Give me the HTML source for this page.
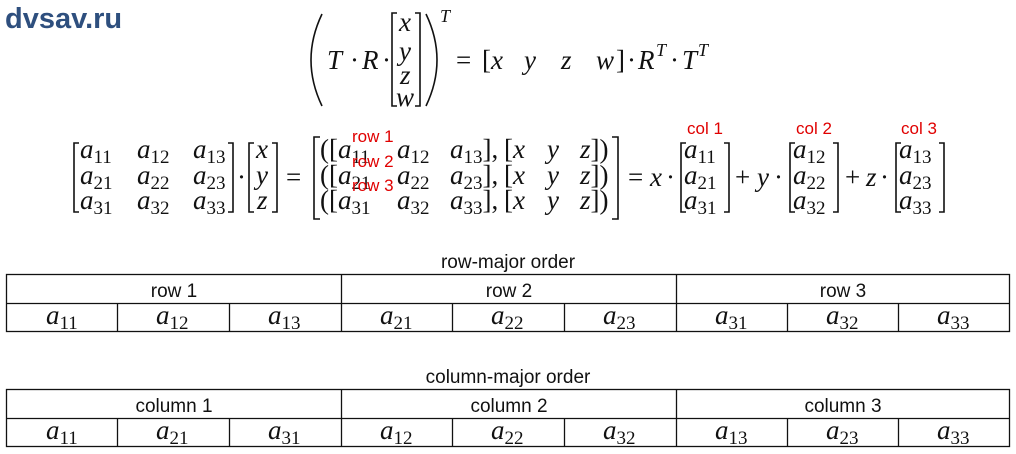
<!DOCTYPE html>
<html><head><meta charset="utf-8"><style>
html,body{margin:0;padding:0;background:#fff;}
svg{display:block}
.m{font-family:"Liberation Serif",serif;font-style:italic;font-size:27px;fill:#111}
.n{font-family:"Liberation Serif",serif;font-size:27px;font-style:normal;fill:#111}
.s{font-size:19px;font-style:normal}
.r{font-family:"Liberation Sans",sans-serif;font-size:17px;fill:#e00000}
.l{font-family:"Liberation Sans",sans-serif;font-size:19px;fill:#111}
.b{fill:none;stroke:#111;stroke-width:1.6}
.t{fill:none;stroke:#111;stroke-width:1.3}
</style></head><body>
<svg width="1016" height="454" viewBox="0 0 1016 454" xmlns="http://www.w3.org/2000/svg">
<text x="5" y="28" style="font-family:'Liberation Sans',sans-serif;font-weight:bold;font-size:29px;fill:#2e4f7e">dvsav.ru</text>

<!-- top equation -->
<path class="b" d="M322,14 Q300,60 322,106"/>
<text class="m" x="327" y="69">T</text>
<text class="n" x="350" y="69">·</text>
<text class="m" x="362" y="69">R</text>
<text class="n" x="382" y="69">·</text>
<path class="b" d="M397,13 H392 V106 H397"/>
<text class="m" x="399" y="31">x</text>
<text class="m" x="399" y="60">y</text>
<text class="m" x="400" y="84">z</text>
<text class="m" x="396" y="106">w</text>
<path class="b" d="M415,13 H420 V106 H415"/>
<path class="b" d="M426,14 Q448,60 426,106"/>
<text class="m" x="440" y="22" style="font-size:18px">T</text>
<text class="n" x="456" y="69">=</text>
<text class="n" x="482" y="69">[</text>
<text class="m" x="491" y="69">x</text>
<text class="m" x="524" y="69">y</text>
<text class="m" x="561" y="69">z</text>
<text class="m" x="596" y="69">w</text>
<text class="n" x="616" y="69">]</text>
<text class="n" x="627" y="69">·</text>
<text class="m" x="638" y="69">R</text>
<text class="m" x="656" y="56" style="font-size:18px">T</text>
<text class="n" x="670" y="69">·</text>
<text class="m" x="682" y="69">T</text>
<text class="m" x="698" y="56" style="font-size:18px">T</text>

<!-- second row: matrix -->
<path class="b" d="M79,143 H74 V212 H79"/>
<g class="m">
<text x="80" y="158">a<tspan class="s" dy="5">11</tspan></text>
<text x="137" y="158">a<tspan class="s" dy="5">12</tspan></text>
<text x="193" y="158">a<tspan class="s" dy="5">13</tspan></text>
<text x="80" y="184">a<tspan class="s" dy="5">21</tspan></text>
<text x="137" y="184">a<tspan class="s" dy="5">22</tspan></text>
<text x="193" y="184">a<tspan class="s" dy="5">23</tspan></text>
<text x="80" y="209">a<tspan class="s" dy="5">31</tspan></text>
<text x="137" y="209">a<tspan class="s" dy="5">32</tspan></text>
<text x="193" y="209">a<tspan class="s" dy="5">33</tspan></text>
</g>
<path class="b" d="M228,143 H233 V212 H228"/>
<text class="n" x="237" y="186">·</text>
<path class="b" d="M254,143 H249 V212 H254"/>
<text class="m" x="256" y="158">x</text>
<text class="m" x="256" y="184">y</text>
<text class="m" x="257" y="209">z</text>
<path class="b" d="M272,143 H277 V212 H272"/>
<text class="n" x="286" y="186">=</text>

<path class="b" d="M320,137 H314 V219 H320"/>
<g class="m">
<text x="320" y="158"><tspan class="n">([</tspan>a<tspan class="s" dy="5">11</tspan></text>
<text x="320" y="184"><tspan class="n">([</tspan>a<tspan class="s" dy="5">21</tspan></text>
<text x="320" y="209"><tspan class="n">([</tspan>a<tspan class="s" dy="5">31</tspan></text>
<text x="397" y="158">a<tspan class="s" dy="5">12</tspan></text>
<text x="397" y="184">a<tspan class="s" dy="5">22</tspan></text>
<text x="397" y="209">a<tspan class="s" dy="5">32</tspan></text>
<text x="450" y="158">a<tspan class="s" dy="5">13</tspan><tspan class="n" dy="-5">],</tspan></text>
<text x="450" y="184">a<tspan class="s" dy="5">23</tspan><tspan class="n" dy="-5">],</tspan></text>
<text x="450" y="209">a<tspan class="s" dy="5">33</tspan><tspan class="n" dy="-5">],</tspan></text>
<text x="504" y="158"><tspan class="n">[</tspan>x</text>
<text x="504" y="184"><tspan class="n">[</tspan>x</text>
<text x="504" y="209"><tspan class="n">[</tspan>x</text>
<text x="547" y="158">y</text><text x="547" y="184">y</text><text x="547" y="209">y</text>
<text x="580" y="158">z<tspan class="n">])</tspan></text>
<text x="580" y="184">z<tspan class="n">])</tspan></text>
<text x="580" y="209">z<tspan class="n">])</tspan></text>
</g>
<text class="r" x="352" y="142">row 1</text>
<text class="r" x="352" y="167">row 2</text>
<text class="r" x="352" y="191">row 3</text>
<path class="b" d="M612,137 H618 V219 H612"/>

<text class="n" x="628" y="186">=</text>
<text class="m" x="650" y="186">x</text>
<text class="n" x="666" y="186">·</text>
<path class="b" d="M686,143 H681 V212 H686"/>
<g class="m">
<text x="684" y="158">a<tspan class="s" dy="5">11</tspan></text>
<text x="684" y="184">a<tspan class="s" dy="5">21</tspan></text>
<text x="684" y="209">a<tspan class="s" dy="5">31</tspan></text>
</g>
<path class="b" d="M724,143 H729 V212 H724"/>
<text class="n" x="735" y="186">+</text>
<text class="m" x="757" y="186">y</text>
<text class="n" x="774" y="186">·</text>
<path class="b" d="M795,143 H790 V212 H795"/>
<g class="m">
<text x="793" y="158">a<tspan class="s" dy="5">12</tspan></text>
<text x="793" y="184">a<tspan class="s" dy="5">22</tspan></text>
<text x="793" y="209">a<tspan class="s" dy="5">32</tspan></text>
</g>
<path class="b" d="M833,143 H838 V212 H833"/>
<text class="n" x="845" y="186">+</text>
<text class="m" x="866" y="186">z</text>
<text class="n" x="880" y="186">·</text>
<path class="b" d="M901,143 H896 V212 H901"/>
<g class="m">
<text x="899" y="158">a<tspan class="s" dy="5">13</tspan></text>
<text x="899" y="184">a<tspan class="s" dy="5">23</tspan></text>
<text x="899" y="209">a<tspan class="s" dy="5">33</tspan></text>
</g>
<path class="b" d="M939,143 H944 V212 H939"/>
<text class="r" x="705" y="134" text-anchor="middle">col 1</text>
<text class="r" x="814" y="134" text-anchor="middle">col 2</text>
<text class="r" x="919" y="134" text-anchor="middle">col 3</text>

<!-- row-major table -->
<text class="l" x="508" y="268" text-anchor="middle">row-major order</text>
<rect class="t" x="6.5" y="274.5" width="1003" height="57"/>
<line class="t" x1="6" y1="303.5" x2="1009" y2="303.5"/>
<line class="t" x1="341.5" y1="274" x2="341.5" y2="332"/>
<line class="t" x1="676.5" y1="274" x2="676.5" y2="332"/>
<g class="t"><line x1="117.5" y1="303" x2="117.5" y2="332"/><line x1="229.5" y1="303" x2="229.5" y2="332"/><line x1="452.5" y1="303" x2="452.5" y2="332"/><line x1="564.5" y1="303" x2="564.5" y2="332"/><line x1="787.5" y1="303" x2="787.5" y2="332"/><line x1="898.5" y1="303" x2="898.5" y2="332"/></g>
<text class="l" x="174" y="297" text-anchor="middle">row 1</text>
<text class="l" x="509" y="297" text-anchor="middle">row 2</text>
<text class="l" x="843" y="297" text-anchor="middle">row 3</text>
<g class="m">
<text x="46" y="324">a<tspan class="s" dy="5">11</tspan></text>
<text x="156" y="324">a<tspan class="s" dy="5">12</tspan></text>
<text x="268" y="324">a<tspan class="s" dy="5">13</tspan></text>
<text x="380" y="324">a<tspan class="s" dy="5">21</tspan></text>
<text x="491" y="324">a<tspan class="s" dy="5">22</tspan></text>
<text x="603" y="324">a<tspan class="s" dy="5">23</tspan></text>
<text x="715" y="324">a<tspan class="s" dy="5">31</tspan></text>
<text x="826" y="324">a<tspan class="s" dy="5">32</tspan></text>
<text x="937" y="324">a<tspan class="s" dy="5">33</tspan></text>
</g>

<!-- column-major table -->
<text class="l" x="508" y="383" text-anchor="middle">column-major order</text>
<rect class="t" x="6.5" y="389.5" width="1003" height="57"/>
<line class="t" x1="6" y1="418.5" x2="1009" y2="418.5"/>
<line class="t" x1="341.5" y1="389" x2="341.5" y2="447"/>
<line class="t" x1="676.5" y1="389" x2="676.5" y2="447"/>
<g class="t"><line x1="117.5" y1="418" x2="117.5" y2="447"/><line x1="229.5" y1="418" x2="229.5" y2="447"/><line x1="452.5" y1="418" x2="452.5" y2="447"/><line x1="564.5" y1="418" x2="564.5" y2="447"/><line x1="787.5" y1="418" x2="787.5" y2="447"/><line x1="898.5" y1="418" x2="898.5" y2="447"/></g>
<text class="l" x="174" y="412" text-anchor="middle">column 1</text>
<text class="l" x="509" y="412" text-anchor="middle">column 2</text>
<text class="l" x="843" y="412" text-anchor="middle">column 3</text>
<g class="m">
<text x="46" y="439">a<tspan class="s" dy="5">11</tspan></text>
<text x="156" y="439">a<tspan class="s" dy="5">21</tspan></text>
<text x="268" y="439">a<tspan class="s" dy="5">31</tspan></text>
<text x="380" y="439">a<tspan class="s" dy="5">12</tspan></text>
<text x="491" y="439">a<tspan class="s" dy="5">22</tspan></text>
<text x="603" y="439">a<tspan class="s" dy="5">32</tspan></text>
<text x="715" y="439">a<tspan class="s" dy="5">13</tspan></text>
<text x="826" y="439">a<tspan class="s" dy="5">23</tspan></text>
<text x="937" y="439">a<tspan class="s" dy="5">33</tspan></text>
</g>
</svg>
</body></html>
